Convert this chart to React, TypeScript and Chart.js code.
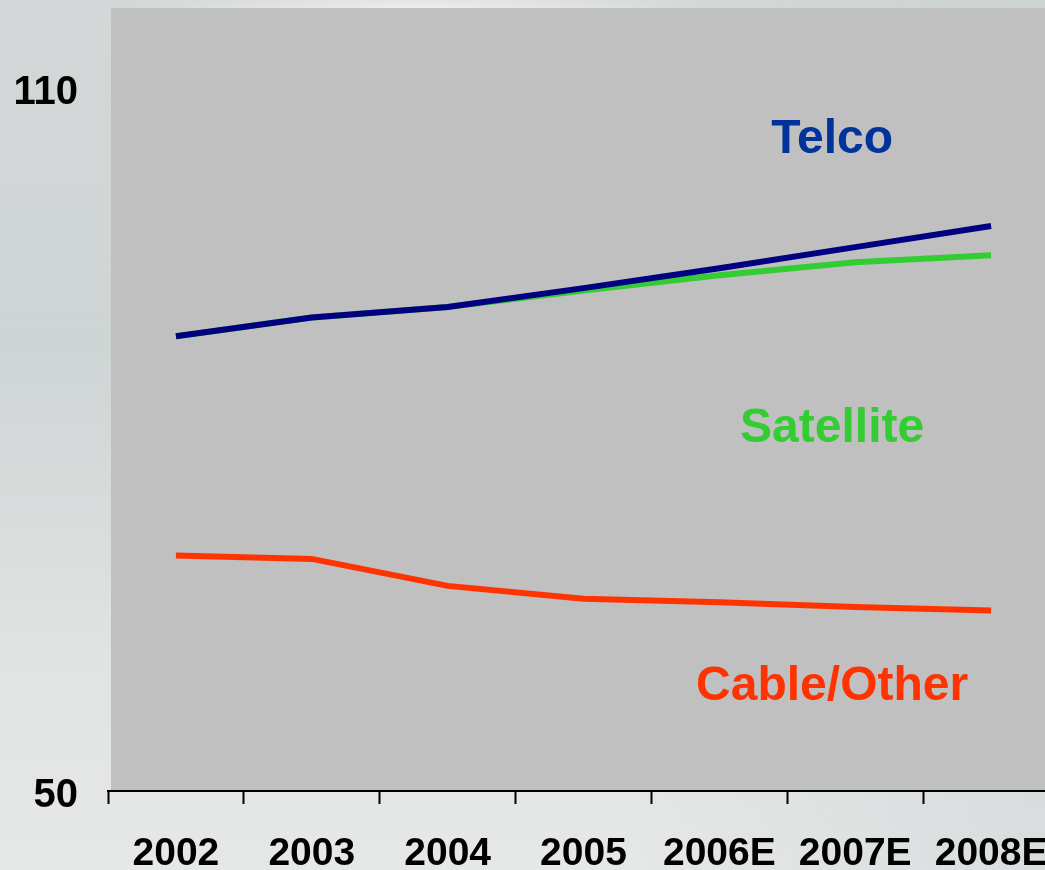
import React, { useEffect, useRef } from "react";
import { Chart, registerables } from "chart.js";

Chart.register(...registerables);

const categories = ["2002", "2003", "2004", "2005", "2006E", "2007E", "2008E"];
const telco = [88.8, 90.4, 91.3, 92.9, 94.6, 96.4, 98.2];
const satellite = [88.8, 90.4, 91.3, 92.7, 94.0, 95.1, 95.7];
const cableOther = [70.1, 69.8, 67.5, 66.4, 66.1, 65.7, 65.4];
const yTickValues = [50, 110];
const seriesNames = ["Telco", "Satellite", "Cable/Other"];
const labelYValues = [105.6, 80.9, 58.9];
const labelXIndex = 4.83;

const lineColors = ["#000080", "#33cc33", "#ff3300"];
const textColors = ["#003399", "#33cc33", "#ff3300"];
const FONT = "'Liberation Sans', Arial, sans-serif";

const plotBgPlugin = {
  id: "plotBg",
  beforeDraw(chart: any) {
    const { ctx, chartArea } = chart;
    ctx.save();
    ctx.fillStyle = "#c0c0c0";
    ctx.fillRect(chartArea.left + 3, chartArea.top, chartArea.right - chartArea.left - 3, chartArea.bottom - chartArea.top);
    ctx.restore();
  },
};

const seriesLabelPlugin = {
  id: "seriesLabels",
  afterDatasetsDraw(chart: any) {
    const { ctx, scales } = chart;
    ctx.save();
    ctx.font = `bold 48px ${FONT}`;
    ctx.textAlign = "center";
    ctx.textBaseline = "middle";
    seriesNames.forEach((name, i) => {
      ctx.fillStyle = textColors[i];
      const x = scales.x.getPixelForValue(labelXIndex);
      const y = scales.y.getPixelForValue(labelYValues[i]);
      ctx.fillText(name, x, y);
    });
    ctx.restore();
  },
};

const zeroPadding = (scale: any) => {
  scale.paddingTop = 0;
  scale.paddingBottom = 0;
  scale.paddingLeft = 0;
  scale.paddingRight = 0;
};

export default function App() {
  const ref = useRef<HTMLCanvasElement | null>(null);
  useEffect(() => {
    if (!ref.current) return;
    const chart = new Chart(ref.current, {
      type: "line",
      data: {
        labels: categories,
        datasets: [
          { label: seriesNames[0], data: telco, borderColor: lineColors[0] },
          { label: seriesNames[1], data: satellite, borderColor: lineColors[1] },
          { label: seriesNames[2], data: cableOther, borderColor: lineColors[2] },
        ].map((d) => ({
          ...d,
          borderWidth: 6,
          pointRadius: 0,
          tension: 0,
          fill: false,
          borderCapStyle: "butt" as const,
        })),
      },
      options: {
        responsive: false,
        animation: false,
        layout: { padding: { left: 13, top: 8, right: 2, bottom: 9 } },
        plugins: { legend: { display: false }, tooltip: { enabled: false } },
        scales: {
          x: {
            offset: true,
            afterFit: (scale: any) => {
              zeroPadding(scale);
              scale.height = 87;
            },
            grid: {
              offset: true,
              drawOnChartArea: false,
              drawTicks: true,
              tickLength: 13,
              tickColor: "#000",
              tickWidth: 2,
            },
            border: { display: true, color: "#000", width: 2 },
            ticks: {
              autoSkip: false,
              maxRotation: 0,
              padding: 27,
              color: "#000",
              font: { family: FONT, size: 39, weight: "bold" },
            },
          },
          y: {
            min: 50,
            max: 116.8,
            afterFit: (scale: any) => {
              zeroPadding(scale);
              scale.width = 95;
            },
            afterBuildTicks: (scale: any) => {
              scale.ticks = yTickValues.map((v) => ({ value: v }));
            },
            grid: { display: false, drawTicks: false },
            border: { display: false },
            ticks: {
              padding: 30,
              labelOffset: 5,
              color: "#000",
              font: { family: FONT, size: 40, weight: "bold" },
            },
          },
        },
      },
      plugins: [plotBgPlugin, seriesLabelPlugin],
    });
    return () => chart.destroy();
  }, []);

  return (
    <div
      style={{
        position: "fixed",
        left: 0,
        top: 0,
        width: 1045,
        height: 870,
        overflow: "hidden",
        background:
          "radial-gradient(ellipse 300px 20px at 420px 8px, rgba(240,240,240,0.9), rgba(240,240,240,0)), linear-gradient(to right, rgba(255,255,255,0) 60%, rgba(200,205,208,0.4) 100%), linear-gradient(to bottom, #d3d7d7 0%, #cfd4d4 40%, #dfe3e2 75%, #e6e8e7 100%)",
      }}
    >
      <canvas ref={ref} width={1061} height={887} style={{ display: "block" }} />
    </div>
  );
}
